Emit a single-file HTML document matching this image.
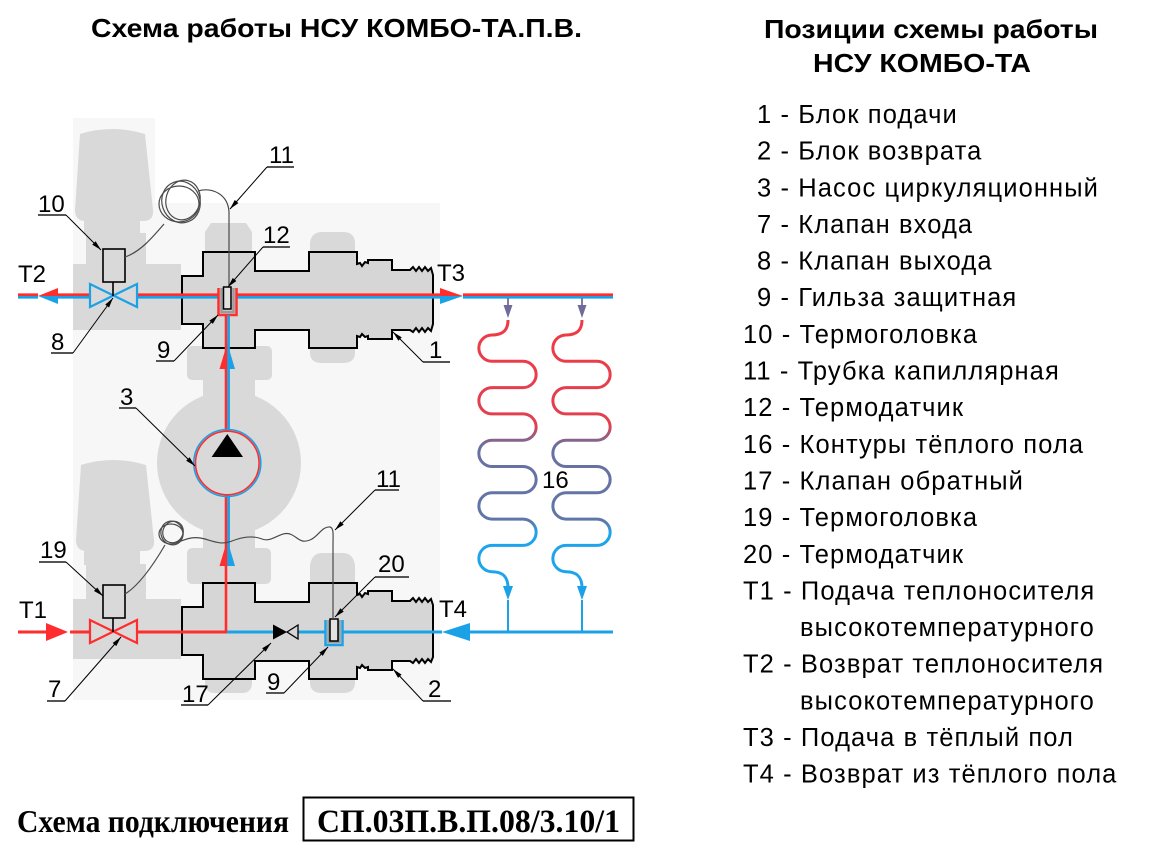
<!DOCTYPE html>
<html><head><meta charset="utf-8"><style>
html,body{margin:0;padding:0;background:#fff;}
svg{display:block;}
.lg{font-family:"Liberation Sans","Noto Sans CJK SC",sans-serif;font-size:25.5px;letter-spacing:1.1px;fill:#000;}
.lb{font-family:"Liberation Sans",sans-serif;font-size:24px;fill:#000;}
.tt{font-family:"Liberation Sans","Noto Sans CJK SC",sans-serif;font-size:26px;font-weight:bold;fill:#000;}
.sr{font-family:"Liberation Serif","Noto Serif CJK SC",serif;font-weight:bold;fill:#000;}
</style></head><body>
<svg width="1150" height="850" viewBox="0 0 1150 850" xmlns="http://www.w3.org/2000/svg">
<defs>
<marker id="ah" markerWidth="10" markerHeight="6" refX="10" refY="3" orient="auto" markerUnits="userSpaceOnUse"><path d="M0,0.6 L10,3 L0,5.4 Z" fill="#000"/></marker>
<linearGradient id="cg" gradientUnits="userSpaceOnUse" x1="0" y1="318" x2="0" y2="600">
<stop offset="0" stop-color="#f03a44"/><stop offset="0.38" stop-color="#e04050"/><stop offset="0.45" stop-color="#6a70a0"/><stop offset="0.72" stop-color="#5f76a8"/><stop offset="0.76" stop-color="#1ea4ec"/><stop offset="1" stop-color="#1ea4ec"/>
</linearGradient>
</defs>
<rect width="1150" height="850" fill="#fff"/>

<!-- titles -->
<text class="tt" x="91" y="37" textLength="491" lengthAdjust="spacingAndGlyphs">Схема работы НСУ КОМБО-ТА.П.В.</text>
<text class="tt" x="764" y="38" textLength="334" lengthAdjust="spacingAndGlyphs">Позиции схемы работы</text>
<text class="tt" x="813" y="72" textLength="218" lengthAdjust="spacingAndGlyphs">НСУ КОМБО-ТА</text>

<!-- legend -->
<g class="lg">
<text x="757" y="123">1 - Блок подачи</text>
<text x="757" y="159.6">2 - Блок возврата</text>
<text x="757" y="196.3">3 - Насос циркуляционный</text>
<text x="757" y="233">7 - Клапан входа</text>
<text x="757" y="269.6">8 - Клапан выхода</text>
<text x="757" y="306.2">9 - Гильза защитная</text>
<text x="743" y="342.9">10 - Термоголовка</text>
<text x="743" y="379.5">11 - Трубка капиллярная</text>
<text x="743" y="416.2">12 - Термодатчик</text>
<text x="743" y="452.8">16 - Контуры тёплого пола</text>
<text x="743" y="489.5">17 - Клапан обратный</text>
<text x="743" y="526.1">19 - Термоголовка</text>
<text x="743" y="562.8">20 - Термодатчик</text>
<text x="743" y="599.4">T1 - Подача теплоносителя</text>
<text x="800" y="636.1">высокотемпературного</text>
<text x="743" y="672.7">T2 - Возврат теплоносителя</text>
<text x="800" y="709.4">высокотемпературного</text>
<text x="743" y="746">T3 - Подача в тёплый пол</text>
<text x="743" y="782.7">T4 - Возврат из тёплого пола</text>
</g>

<!-- faint background -->
<rect x="73" y="118" width="82" height="582" fill="#f7f7f7"/>
<rect x="155" y="203" width="285" height="497" fill="#f7f7f7"/>

<!-- gray components -->
<g fill="#d9d9d9">
<path d="M80,134 Q112,124 145,134 L153,210 Q154,220 145,221 L84,221 Q75,220 75,210 Z"/>
<rect x="84" y="221" width="56" height="13"/>
<rect x="86" y="233" width="60" height="32"/>
<rect x="73" y="264" width="108" height="66"/>
<path d="M81,465 Q113,455 146,465 L154,540 Q155,550 146,551 L85,551 Q76,550 76,540 Z"/>
<rect x="84" y="551" width="56" height="14"/>
<rect x="86" y="564" width="60" height="36"/>
<rect x="73" y="599" width="108" height="60"/>
<path d="M211,223 L246,223 L252,232 L252,253 L205,253 L205,232 Z"/>
<path d="M310,253 L310,242 Q312,232 322,232 L343,232 Q354,232 355,242 L355,253 Z"/>
<path d="M310,347 L355,347 L355,354 Q354,363 343,363 L322,363 Q311,363 310,354 Z"/>
<rect x="187" y="346" width="85" height="34" rx="5"/>
<rect x="203" y="378" width="52" height="26"/>
<circle cx="229" cy="463" r="72"/>
<rect x="203" y="530" width="52" height="22"/>
<rect x="187" y="548" width="84" height="36" rx="5"/>
<path d="M310,584 L310,565 Q312,553 322,553 L343,553 Q353,553 355,565 L355,584 Z"/>
<path d="M205,677 L252,677 L252,684 Q251,693 242,693 L215,693 Q206,693 205,684 Z"/>
<path d="M310,677 L355,677 L355,684 Q354,693 343,693 L322,693 Q311,693 310,684 Z"/>
</g>

<!-- blocks -->
<g fill="#d6d6d6" stroke="#000" stroke-width="2" stroke-linejoin="miter">
<path transform="translate(0,300)" d="M182,-24 H203 V-48 H255 V-29 H309 V-48 H357 V-36 L360,-37 L362,-34 L365,-38 L368,-37 V-40 H392 V-30 H410 L413,-33 L416,-29 L419,-33 L422,-29 L425,-33 L428,-29 L431,-32 L433,-25 V24 L431,31 L428,28 L425,32 L422,28 L419,32 L416,28 L413,32 L410,30 H392 V39 H368 V36 L365,37 L362,34 L360,37 L357,36 V48 H309 V30 H255 V48 H203 V24 H182 Z"/>
<path transform="translate(0,631)" d="M182,-24 H203 V-48 H255 V-29 H309 V-48 H357 V-36 L360,-37 L362,-34 L365,-38 L368,-37 V-40 H392 V-30 H410 L413,-33 L416,-29 L419,-33 L422,-29 L425,-33 L428,-29 L431,-32 L433,-26 V26 L431,31 L428,28 L425,32 L422,28 L419,32 L416,28 L413,32 L410,30 H392 V39 H368 V36 L365,37 L362,34 L360,37 L357,36 V48 H309 V30 H255 V48 H203 V24 H182 Z"/>
</g>

<!-- TOP PIPE -->
<g stroke-width="2.6" fill="none">
<path d="M18,294.7 H38 M57,294.7 H90 M137,294.7 H218 M237,294.7 H440 M463,294.7 H613" stroke="#ff2d2d"/>
<path d="M18,297.3 H38 M57,297.3 H90 M137,297.3 H218 M237,297.3 H440 M463,297.3 H613" stroke="#1ba1e6"/>
</g>
<path d="M38,296 L58,288 L58,296 Z" fill="#ff2d2d"/>
<path d="M38,296 L58,304 L58,296 Z" fill="#1ba1e6"/>
<path d="M463,296 L440,288 L440,296 Z" fill="#ff2d2d"/>
<path d="M463,296 L440,304 L440,296 Z" fill="#1ba1e6"/>
<path d="M90,284 L90,307 L137,284 L137,307 Z" fill="none" stroke="#1ba1e6" stroke-width="2.2" stroke-linejoin="miter"/>
<rect x="103" y="249" width="22" height="33" fill="#d9d9d9" stroke="#000" stroke-width="1.6"/>
<line x1="113" y1="282" x2="113" y2="296" stroke="#000" stroke-width="1.6"/>
<path d="M221.5,288 V312 H233.5 V288" fill="none" stroke="#9a9a9a" stroke-width="2.5"/>
<path d="M218.5,288 V315 H236.5 V288" fill="none" stroke="#ff2d2d" stroke-width="2.5"/>
<rect x="223.5" y="287" width="7.5" height="22" fill="#e2e2e2" stroke="#000" stroke-width="1.5"/>

<!-- vertical pump pipe -->
<g stroke-width="2.6" fill="none">
<path d="M226,315 V431 M226,495 V632" stroke="#ff2d2d"/>
<path d="M228.6,315 V431 M228.6,495 V565" stroke="#1ba1e6"/>
</g>
<path d="M227.3,343 L219.5,369 L227.3,369 Z" fill="#ff2d2d"/>
<path d="M227.3,343 L235,369 L227.3,369 Z" fill="#1ba1e6"/>
<path d="M227.3,540 L219.5,566 L227.3,566 Z" fill="#ff2d2d"/>
<path d="M227.3,540 L235,566 L227.3,566 Z" fill="#1ba1e6"/>
<circle cx="227.3" cy="463" r="33.5" fill="none" stroke="#1ba1e6" stroke-width="1.6"/>
<circle cx="227.3" cy="463" r="31.8" fill="none" stroke="#ff2d2d" stroke-width="1.6"/>
<path d="M227.3,434 L243,457 L211.6,457 Z" fill="#000"/>

<!-- BOTTOM PIPE -->
<g stroke-width="3" fill="none">
<path d="M18,632 H48 M70,632 H90 M137,632 H227" stroke="#ff2d2d"/>
<path d="M227,632 H273 M298,632 H325.5 M342.5,632 H442 M470,632 H613" stroke="#1ba1e6"/>
</g>
<path d="M68,632 L46,623 L46,641 Z" fill="#ff2d2d"/>
<path d="M442,632 L470,623 L470,641 Z" fill="#1ba1e6"/>
<path d="M90,620 L90,643 L137,620 L137,643 Z" fill="none" stroke="#ff2d2d" stroke-width="2.2" stroke-linejoin="miter"/>
<rect x="103" y="585" width="22" height="33" fill="#d9d9d9" stroke="#000" stroke-width="1.6"/>
<line x1="113" y1="618" x2="113" y2="632" stroke="#000" stroke-width="1.6"/>
<path d="M273,624.5 L273,639.5 L287,632 Z" fill="#000"/>
<path d="M287,632 L298,625 L298,639 Z" fill="none" stroke="#000" stroke-width="1.3"/>
<path d="M328.5,620 V642 H339.5 V620" fill="none" stroke="#9a9a9a" stroke-width="2.5"/>
<path d="M325.5,620 V645 H342.5 V620" fill="none" stroke="#1ba1e6" stroke-width="2.5"/>
<rect x="330" y="619" width="8" height="22" fill="#e2e2e2" stroke="#000" stroke-width="1.5"/>

<!-- capillaries -->
<g fill="none" stroke="#4a4a4a" stroke-width="1.2">
<path d="M125,257 C140,252 152,238 164,224"/>
<ellipse cx="181" cy="202" rx="19" ry="21" transform="rotate(-20 181 202)"/>
<ellipse cx="183" cy="200" rx="17" ry="20" transform="rotate(15 183 200)"/>
<ellipse cx="179" cy="204" rx="20" ry="18"/>
<path d="M198,191 C212,187 228,194 229,212 L229,287"/>
<path d="M125,594 C140,585 155,562 165,545"/>
<ellipse cx="172" cy="533" rx="11" ry="12" transform="rotate(-20 172 533)"/>
<ellipse cx="173" cy="532" rx="10" ry="11" transform="rotate(30 173 532)"/>
<ellipse cx="171" cy="534" rx="12" ry="10"/>
<path d="M176,543 C188,538 195,536 205,539 C215,542 222,545 232,541 C242,537 252,535 262,539 C272,543 280,531 290,534 C298,537 300,544 310,540 C318,537 322,526 330,527 C334,528 333,535 333,545 L333,619"/>
</g>

<!-- coils -->
<g id="coil">
<line x1="508" y1="298" x2="508" y2="306" stroke="#7a6a96" stroke-width="1.8"/>
<path d="M508,318 L503.5,305 L512.5,305 Z" fill="#6f6c9c"/>
<path d="M508,320 C508,330 503,335 492,335 A13.15,13.15 0 0 0 492,361.3 H523 A13.15,13.15 0 0 1 523,387.6 H492 A13.15,13.15 0 0 0 492,413.9 H523 A13.15,13.15 0 0 1 523,440.2 H492 A13.15,13.15 0 0 0 492,466.5 H523 A13.15,13.15 0 0 1 523,492.8 H492 A13.15,13.15 0 0 0 492,519.1 H523 A13.15,13.15 0 0 1 523,545.4 H492 A13.15,13.15 0 0 0 492,571.7 C503,571.7 508,577 508,588" fill="none" stroke="url(#cg)" stroke-width="3"/>
<path d="M508,600 L503,586 L513,586 Z" fill="#1ba1e6"/>
<line x1="508" y1="600" x2="508" y2="632" stroke="#1ba1e6" stroke-width="2"/>
</g>
<use href="#coil" transform="translate(74,0)"/>

<!-- labels -->
<g class="lb">
<text x="437" y="281">T3</text>
<text x="18" y="282">T2</text>
<text x="19" y="618">T1</text>
<text x="439" y="617">T4</text>
<text x="542" y="488">16</text>
<text x="38" y="212">10</text>
<text x="269" y="163">11</text>
<text x="263" y="243">12</text>
<text x="51" y="350">8</text>
<text x="157" y="358">9</text>
<text x="429" y="358">1</text>
<text x="120" y="405">3</text>
<text x="376" y="487">11</text>
<text x="40" y="558">19</text>
<text x="378" y="572">20</text>
<text x="48" y="697">7</text>
<text x="182" y="702">17</text>
<text x="267" y="690">9</text>
<text x="428" y="697">2</text>
</g>
<g stroke="#555" stroke-width="2">
<line x1="38" y1="215" x2="66" y2="215"/>
<line x1="267" y1="167" x2="294" y2="167"/>
<line x1="263" y1="247" x2="290" y2="247"/>
<line x1="51" y1="353" x2="73" y2="353"/>
<line x1="156" y1="361" x2="174" y2="361"/>
<line x1="423" y1="362" x2="450" y2="362"/>
<line x1="119" y1="408" x2="136" y2="408"/>
<line x1="375" y1="490" x2="399" y2="490"/>
<line x1="39" y1="562" x2="66" y2="562"/>
<line x1="375" y1="577" x2="409" y2="577"/>
<line x1="47" y1="701" x2="65" y2="701"/>
<line x1="181" y1="705" x2="208" y2="705"/>
<line x1="266" y1="693" x2="284" y2="693"/>
<line x1="423" y1="701" x2="451" y2="701"/>
</g>
<g stroke="#000" stroke-width="1" marker-end="url(#ah)">
<line x1="66" y1="215" x2="101" y2="250"/>
<line x1="267" y1="167" x2="230" y2="209"/>
<line x1="263" y1="247" x2="228" y2="287"/>
<line x1="73" y1="353" x2="113" y2="298"/>
<line x1="174" y1="361" x2="218" y2="315"/>
<line x1="423" y1="362" x2="393" y2="332"/>
<line x1="136" y1="408" x2="195" y2="466"/>
<line x1="375" y1="490" x2="335" y2="530"/>
<line x1="66" y1="562" x2="103" y2="596"/>
<line x1="375" y1="577" x2="335" y2="617"/>
<line x1="65" y1="701" x2="121" y2="637"/>
<line x1="208" y1="705" x2="271" y2="643"/>
<line x1="284" y1="693" x2="328" y2="647"/>
<line x1="423" y1="701" x2="393" y2="669"/>
</g>

<!-- bottom caption -->
<text class="sr" x="17" y="832" font-size="32" textLength="272" lengthAdjust="spacingAndGlyphs">Схема подключения</text>
<rect x="303.5" y="797.5" width="330" height="43" fill="none" stroke="#000" stroke-width="2"/>
<text class="sr" x="317" y="832" font-size="33" textLength="303" lengthAdjust="spacingAndGlyphs">СП.03П.В.П.08/3.10/1</text>
</svg>
</body></html>
